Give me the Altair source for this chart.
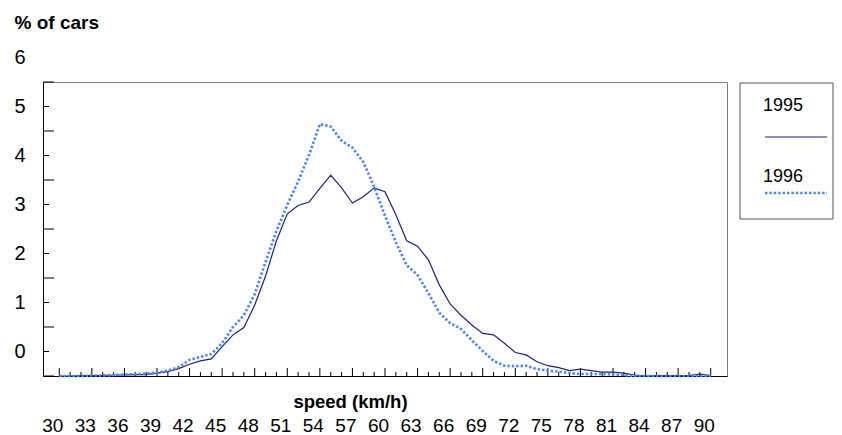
import altair as alt
import pandas as pd

# ---------------- data ----------------
speeds = list(range(30, 91))
pct_1995 = [0.00, 0.00, 0.01, 0.01, 0.01, 0.02, 0.02, 0.03, 0.03, 0.06,
            0.09, 0.15, 0.24, 0.31, 0.35, 0.60, 0.84, 0.99, 1.45, 2.04,
            2.76, 3.31, 3.48, 3.55, 3.83, 4.10, 3.84, 3.53, 3.66, 3.84,
            3.76, 3.29, 2.76, 2.65, 2.37, 1.86, 1.47, 1.24, 1.04, 0.87,
            0.84, 0.67, 0.48, 0.43, 0.29, 0.21, 0.17, 0.11, 0.14, 0.11,
            0.08, 0.08, 0.06, 0.02, 0.00, 0.01, 0.01, 0.01, 0.01, 0.04,
            0.01]
pct_1996 = [0.00, 0.00, 0.00, 0.01, 0.01, 0.02, 0.03, 0.04, 0.05, 0.07,
            0.11, 0.18, 0.33, 0.39, 0.45, 0.67, 1.00, 1.24, 1.67, 2.33,
            2.96, 3.49, 3.97, 4.51, 5.14, 5.09, 4.80, 4.66, 4.37, 3.86,
            3.27, 2.73, 2.26, 2.06, 1.69, 1.29, 1.08, 0.96, 0.73, 0.51,
            0.31, 0.21, 0.20, 0.21, 0.14, 0.11, 0.09, 0.06, 0.04, 0.04,
            0.04, 0.03, 0.02, 0.00, 0.00, 0.00, 0.00, 0.00, 0.00, 0.00,
            0.00]
series_names = ["1995", "1996"]
x_tick_labels = list(range(30, 91, 3))
y_tick_labels = [0, 1, 2, 3, 4, 5, 6]
y_minor_ticks = [0.5, 1.5, 2.5, 3.5, 4.5, 5.5]
x_minor_ticks = [s for s in speeds if s not in x_tick_labels]

# ---------------- styling ----------------
W, H = 684, 294
FONT = "Liberation Sans, Arial, sans-serif"
NAVY = "#1f1f8c"
BLUE = "#4a86ff"

xscale = alt.Scale(domain=[28.5, 91.5], nice=False, zero=False)
yscale = alt.Scale(domain=[0, 6], nice=False, zero=False)

df95 = pd.DataFrame({"speed": speeds, "pct": pct_1995, "year": series_names[0]})
df96 = pd.DataFrame({"speed": speeds, "pct": pct_1996, "year": series_names[1]})

x_axis = alt.Axis(values=x_tick_labels, ticks=False, tickSize=0, grid=False,
                  labelOffset=-7, labelPadding=55, labelBaseline="alphabetic",
                  labelFont=FONT, labelFontSize=19, labelColor="black",
                  labelFlush=False, labelOverlap=False,
                  domainColor="black", domainWidth=1,
                  title="speed (km/h)", titleFont=FONT, titleFontSize=18.5,
                  titleFontWeight="bold", titleColor="black",
                  titleX=307, titleY=31, titleAlign="center",
                  titleBaseline="alphabetic")
y_axis = alt.Axis(values=y_tick_labels, ticks=False, tickSize=0, grid=False,
                  labelOffset=-24.5, labelPadding=18, labelBaseline="middle",
                  labelAlign="right",
                  labelFont=FONT, labelFontSize=20, labelColor="black",
                  labelFlush=False, labelOverlap=False,
                  domainColor="black", domainWidth=1,
                  title="% of cars", titleFont=FONT, titleFontSize=19,
                  titleFontWeight="bold", titleColor="black", titleAngle=0,
                  titleAlign="left", titleBaseline="middle",
                  titleX=-29, titleY=-60)

line95 = alt.Chart(df95).mark_line(color=NAVY, strokeWidth=1.2).encode(
    x=alt.X("speed:Q", scale=xscale, axis=x_axis),
    y=alt.Y("pct:Q", scale=yscale, axis=y_axis),
)
line96 = alt.Chart(df96).mark_line(color=BLUE, strokeWidth=2.6,
                                   strokeDash=[2.4, 2.0]).encode(
    x=alt.X("speed:Q", scale=xscale, axis=x_axis),
    y=alt.Y("pct:Q", scale=yscale, axis=y_axis),
)

# inward tick marks (drawn on the shared scales)
xmaj = alt.Chart(pd.DataFrame({"speed": x_tick_labels})).mark_rule(
    color="black", strokeWidth=1).encode(
    x=alt.X("speed:Q", scale=xscale, axis=x_axis),
    y=alt.value(H), y2=alt.value(H - 8))
xmin = alt.Chart(pd.DataFrame({"speed": x_minor_ticks})).mark_rule(
    color="black", strokeWidth=1).encode(
    x=alt.X("speed:Q", scale=xscale, axis=x_axis),
    y=alt.value(H), y2=alt.value(H - 4))
ymaj = alt.Chart(pd.DataFrame({"pct": y_tick_labels})).mark_rule(
    color="black", strokeWidth=1).encode(
    y=alt.Y("pct:Q", scale=yscale, axis=y_axis),
    x=alt.value(0), x2=alt.value(11))
ymin = alt.Chart(pd.DataFrame({"pct": y_minor_ticks})).mark_rule(
    color="black", strokeWidth=1).encode(
    y=alt.Y("pct:Q", scale=yscale, axis=y_axis),
    x=alt.value(0), x2=alt.value(6))

# legend box (label above sample line)
one = pd.DataFrame({"name": [series_names[0]]})
two = pd.DataFrame({"name": [series_names[1]]})
box = alt.Chart(one).mark_rect(fill="white", stroke="#555555",
                               strokeWidth=1).encode(
    x=alt.value(697), x2=alt.value(790), y=alt.value(1), y2=alt.value(137))
lab95 = alt.Chart(one).mark_text(align="left", baseline="middle", font=FONT,
                                 fontSize=18, color="black").encode(
    text="name:N", x=alt.value(720), y=alt.value(24))
lab96 = alt.Chart(two).mark_text(align="left", baseline="middle", font=FONT,
                                 fontSize=18, color="black").encode(
    text="name:N", x=alt.value(720), y=alt.value(95))
sam95 = alt.Chart(one).mark_rule(color=NAVY, strokeWidth=1.2).encode(
    x=alt.value(722), x2=alt.value(784), y=alt.value(55))
sam96 = alt.Chart(two).mark_rule(color=BLUE, strokeWidth=2.6,
                                 strokeDash=[2.4, 2.0]).encode(
    x=alt.value(722), x2=alt.value(784), y=alt.value(111))

chart = alt.layer(
    xmaj, xmin, ymaj, ymin, line95, line96, box, lab95, lab96, sam95, sam96
).properties(
    width=W, height=H,
    autosize=alt.AutoSizeParams(type="none"),
    padding={"left": 35, "top": 74, "right": 107, "bottom": 60},
    background="white",
).configure_view(stroke="#808080", strokeWidth=1)

chart.save("out.html", embed_options={"renderer": "svg", "actions": False})
